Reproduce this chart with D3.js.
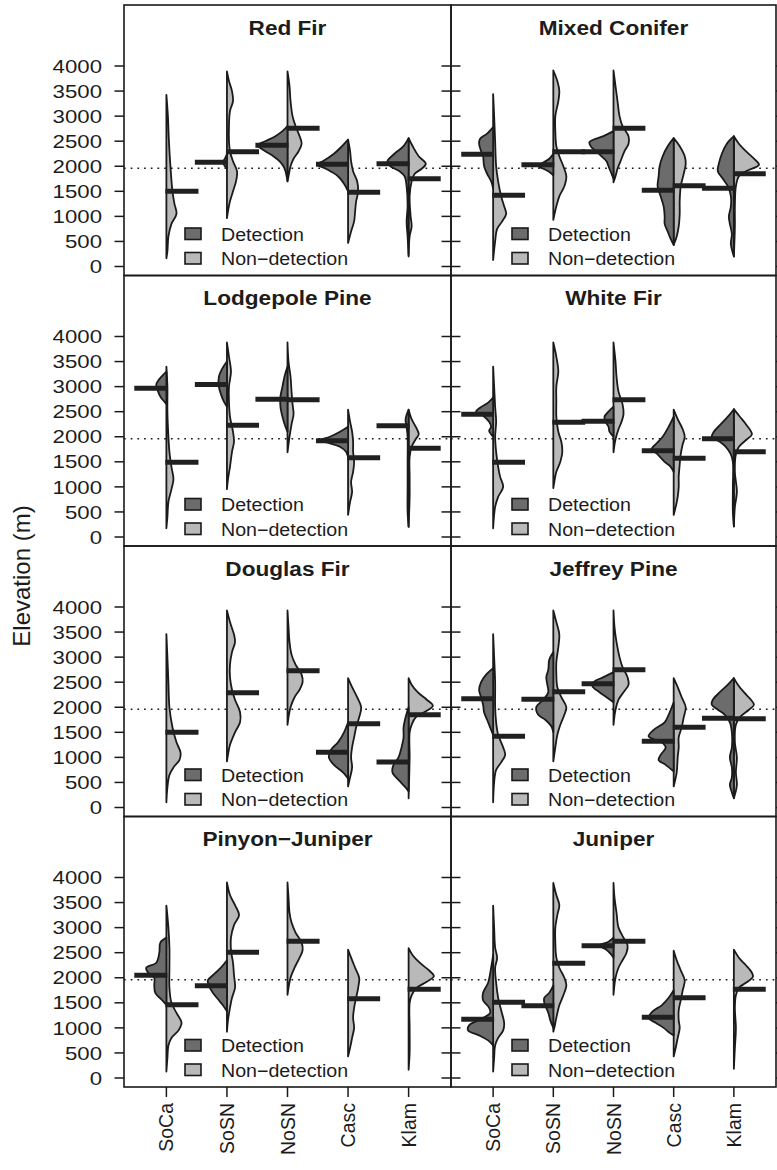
<!DOCTYPE html>
<html><head><meta charset="utf-8">
<script src="https://cdn.jsdelivr.net/npm/d3@7"></script>
<style>
body{margin:0;background:#fff}
svg{display:block}
text{font-family:"Liberation Sans",Arial,Helvetica,sans-serif;fill:#1c1c1c}
</style>
</head><body>
<svg id="chart" width="777" height="1170"></svg>
<script>
// ---------------- data ----------------
const regions = ["SoCa","SoSN","NoSN","Casc","Klam"];
const forestTypes = ["Red Fir","Mixed Conifer","Lodgepole Pine","White Fir","Douglas Fir","Jeffrey Pine","Pinyon\u2212Juniper","Juniper"];
const yTicks = [0,500,1000,1500,2000,2500,3000,3500,4000];
const refElevation = 1960;
const legendLabels = ["Detection","Non\u2212detection"];
const yTitle = "Elevation (m)";

// half-violin density profiles: [elevation, relative density] (per region, null = no data)
const redFirDet = [
  null,
  [[2250,0],[2150,2],[2080,4],[2000,2],[1950,0]],
  [[2800,0],[2700,5],[2600,12],[2500,22],[2420,30],[2300,22],[2200,14],[2100,8],[2000,4],[1900,2],[1700,0]],
  [[2530,0],[2400,6],[2250,14],[2100,25],[2040,31],[1950,22],[1800,10],[1650,4],[1500,0]],
  [[2560,0],[2400,5],[2250,14],[2100,21],[2000,18],[1900,9],[1800,4],[1600,2],[1200,1],[900,2],[600,1],[200,0]]
];
const redFirNon = [
  [[3425,0],[3000,1.5],[2500,2.5],[2000,4],[1500,6],[1250,8],[1050,10],[850,5],[600,2],[300,1],[165,0]],
  [[3890,0],[3700,2],[3500,5],[3300,6],[3100,3],[2800,2],[2500,2],[2300,3],[2100,6],[1900,10],[1700,9],[1500,6],[1300,3],[1100,1],[965,0]],
  [[3890,0],[3600,2],[3300,3],[3000,5],[2800,8],[2600,12],[2450,14],[2300,11],[2150,6],[2000,3],[1800,1],[1700,0]],
  [[2530,0],[2300,2],[2100,3],[1900,5],[1700,9],[1500,10],[1300,8],[1100,7],[900,6],[700,3],[470,0]],
  [[2560,0],[2400,4],[2200,10],[2050,17],[1950,13],[1850,6],[1700,3],[1400,1],[1000,2],[800,3],[600,1],[230,0]]
];
const redFirMedDet = [null,2080,2420,2040,2050];
const redFirMedNon = [1500,2290,2760,1480,1750];

const mixedConiferDet = [
  [[2780,0],[2650,6],[2550,13],[2450,14],[2300,12],[2200,10],[2000,9],[1850,6],[1700,2],[1550,0]],
  [[2250,0],[2150,4],[2050,12],[2000,15],[1950,10],[1900,5],[1820,0]],
  [[2700,0],[2600,10],[2480,24],[2380,22],[2300,17],[2200,12],[2100,7],[2000,5],[1900,3],[1750,0]],
  [[2560,0],[2400,6],[2200,11],[2000,14],[1800,15],[1600,16],[1400,13],[1200,10],[1000,9],[850,9],[700,6],[550,3],[430,0]],
  [[2600,0],[2450,7],[2250,12],[2050,15],[1900,16],[1750,11],[1600,6],[1400,3],[1200,3],[1000,5],[850,4],[650,2],[450,3],[200,0]]
];
const mixedConiferNon = [
  [[3440,0],[3000,1],[2500,2],[2000,3],[1700,5],[1400,8],[1200,11],[1050,13],[900,9],[750,4],[500,2],[130,0]],
  [[3910,0],[3700,4],[3500,6],[3300,5],[3000,2],[2700,2],[2400,3],[2200,6],[2000,10],[1800,13],[1600,11],[1400,6],[1200,3],[930,0]],
  [[3910,0],[3600,2],[3300,4],[3000,6],[2800,9],[2600,15],[2450,15],[2300,11],[2100,7],[1950,4],[1800,2],[1680,0]],
  [[2560,0],[2400,6],[2200,11],[2050,12],[1850,10],[1600,7],[1300,6],[1050,6],[800,5],[600,3],[430,0]],
  [[2600,0],[2450,5],[2300,12],[2150,20],[2030,25],[1900,12],[1800,5],[1600,2],[1200,1],[800,1],[200,0]]
];
const mixedConiferMedDet = [2240,2030,2290,1520,1560];
const mixedConiferMedNon = [1420,2290,2760,1610,1850];

const lodgepoleDet = [
  [[3300,0],[3150,7],[3050,10],[2950,9],[2800,6],[2700,2],[2650,0]],
  [[3500,0],[3350,5],[3200,8],[3000,8],[2850,6],[2700,3],[2600,0]],
  [[3400,0],[3200,3],[3000,5],[2800,7],[2600,7],[2400,5],[2200,2],[2100,0]],
  [[2200,0],[2100,8],[2000,18],[1930,28],[1880,20],[1800,8],[1700,2],[1600,0]],
  [[2540,0],[2350,3],[2200,2],[2000,1],[1500,1],[1000,1],[500,1],[200,0]]
];
const lodgepoleNon = [
  [[3400,0],[3000,1],[2500,1],[2000,2],[1700,3],[1400,5],[1150,7],[950,5],[700,2],[400,1],[175,0]],
  [[3880,0],[3600,2],[3300,4],[3000,2],[2700,2],[2400,3],[2100,6],[1900,7],[1700,5],[1400,3],[1150,1],[955,0]],
  [[3880,0],[3500,1],[3200,3],[2900,4],[2650,5],[2450,6],[2250,4],[2000,2],[1690,0]],
  [[2540,0],[2300,2],[2100,4],[1900,5],[1700,5],[1500,6],[1300,5],[1100,3],[900,4],[700,2],[440,0]],
  [[2540,0],[2350,3],[2200,7],[2050,10],[1950,7],[1800,3],[1600,1],[1200,1],[800,1],[210,0]]
];
const lodgepoleMedDet = [2970,3040,2750,1920,2220];
const lodgepoleMedNon = [1490,2230,2740,1580,1770];

const whiteFirDet = [
  [[2780,0],[2680,5],[2580,13],[2500,17],[2420,10],[2300,4],[2200,2],[2120,4],[2050,2],[2000,0]],
  null,
  [[2600,0],[2500,5],[2400,9],[2300,8],[2200,5],[2100,4],[2000,0]],
  [[2400,0],[2200,5],[2000,11],[1870,17],[1750,22],[1650,16],[1500,9],[1400,3],[1300,0]],
  [[2550,0],[2400,6],[2250,13],[2100,20],[2000,22],[1900,14],[1800,8],[1650,3],[1500,1],[1000,1],[500,1],[210,0]]
];
const whiteFirNon = [
  [[3400,0],[3000,1],[2600,2],[2300,3],[2000,2],[1700,3],[1400,5],[1200,7],[1000,10],[800,5],[600,2],[175,0]],
  [[3880,0],[3600,3],[3300,5],[3000,3],[2700,3],[2400,3],[2100,5],[1900,8],[1700,9],[1500,7],[1300,3],[1100,1],[975,0]],
  [[3880,0],[3500,2],[3200,3],[2900,5],[2650,9],[2450,10],[2300,8],[2150,5],[1950,2],[1690,0]],
  [[2540,0],[2350,4],[2150,9],[2000,11],[1850,9],[1650,7],[1450,6],[1200,5],[1000,5],[800,4],[600,2],[440,0]],
  [[2550,0],[2400,6],[2250,12],[2050,18],[1950,13],[1800,5],[1650,2],[1300,1],[900,3],[600,1],[210,0]]
];
const whiteFirMedDet = [2450,null,2310,1720,1960];
const whiteFirMedNon = [1490,2290,2740,1570,1700];

const douglasFirDet = [
  null, null, null,
  [[1700,0],[1500,4],[1300,10],[1150,17],[1000,19],[850,14],[700,5],[580,0]],
  [[2000,0],[1800,3],[1600,5],[1400,5],[1200,7],[1000,10],[850,15],[700,16],[550,10],[400,3],[320,0]]
];
const douglasFirNon = [
  [[3460,0],[3000,1],[2500,2],[2000,3],[1600,6],[1300,10],[1100,14],[950,13],[800,7],[650,3],[400,1],[105,0]],
  [[3930,0],[3700,3],[3450,7],[3300,8],[3100,5],[2850,3],[2600,3],[2350,5],[2150,8],[1900,13],[1700,13],[1500,8],[1250,3],[1050,1],[920,0]],
  [[3930,0],[3600,1],[3300,2],[3050,4],[2850,8],[2650,14],[2500,15],[2350,12],[2200,7],[2000,3],[1800,1],[1650,0]],
  [[2580,0],[2400,4],[2200,9],[2000,13],[1800,11],[1600,8],[1400,6],[1200,4],[1000,3],[800,4],[600,2],[420,0]],
  [[2580,0],[2450,3],[2300,9],[2150,18],[2030,24],[1930,18],[1800,7],[1650,3],[1500,1],[1000,1],[185,0]]
];
const douglasFirMedDet = [null,null,null,1100,910];
const douglasFirMedNon = [1500,2290,2730,1670,1850];

const jeffreyPineDet = [
  [[2780,0],[2650,7],[2500,12],[2350,14],[2200,12],[2050,10],[1900,9],[1750,6],[1600,3],[1450,0]],
  [[3100,0],[2950,4],[2750,5],[2600,7],[2450,6],[2300,5],[2150,10],[2000,17],[1850,15],[1750,8],[1620,2],[1500,0]],
  [[2700,0],[2600,10],[2500,20],[2420,21],[2300,14],[2200,7],[2100,0]],
  [[2100,0],[1900,4],[1700,9],[1550,20],[1420,25],[1300,12],[1200,8],[1050,13],[950,15],[850,8],[720,0]],
  [[2580,0],[2450,6],[2300,14],[2150,21],[2050,22],[1950,16],[1850,9],[1700,4],[1500,2],[1200,2],[1000,4],[800,2],[600,2],[450,4],[300,2],[185,0]]
];
const jeffreyPineNon = [
  [[3460,0],[3000,1],[2500,2],[2000,2],[1700,3],[1450,5],[1200,10],[1050,12],[900,8],[750,3],[500,1],[105,0]],
  [[3930,0],[3700,3],[3450,6],[3200,5],[2900,3],[2650,3],[2400,4],[2200,8],[2000,13],[1850,11],[1650,7],[1450,4],[1200,2],[920,0]],
  [[3930,0],[3600,1],[3300,3],[3000,6],[2800,9],[2600,14],[2450,15],[2300,10],[2150,5],[1950,2],[1650,0]],
  [[2580,0],[2400,4],[2200,8],[2000,12],[1800,10],[1600,8],[1400,5],[1200,5],[1000,4],[700,3],[420,0]],
  [[2580,0],[2450,4],[2300,10],[2150,17],[2050,20],[1950,15],[1800,6],[1650,2],[1300,1],[1000,3],[700,2],[450,3],[185,0]]
];
const jeffreyPineMedDet = [2170,2160,2470,1320,1780];
const jeffreyPineMedNon = [1420,2310,2750,1600,1770];

const pinyonJuniperDet = [
  [[2800,0],[2700,6],[2500,7],[2300,10],[2200,20],[2100,18],[2000,12],[1850,12],[1700,11],[1550,4],[1460,0]],
  [[2350,0],[2200,6],[2050,14],[1950,19],[1850,18],[1700,14],[1550,8],[1450,4],[1330,0]],
  null, null, null
];
const pinyonJuniperNon = [
  [[3440,0],[3000,2],[2600,3],[2200,3],[1800,3],[1500,5],[1300,10],[1100,15],[950,12],[800,5],[650,2],[400,1],[130,0]],
  [[3900,0],[3650,3],[3450,8],[3250,12],[3050,7],[2800,4],[2550,4],[2300,6],[2050,7],[1800,8],[1600,5],[1400,3],[1150,1],[925,0]],
  [[3900,0],[3600,1],[3300,2],[3100,4],[2900,8],[2700,14],[2550,15],[2400,12],[2200,7],[2000,3],[1800,1],[1660,0]],
  [[2560,0],[2400,3],[2200,7],[2000,11],[1800,10],[1600,8],[1400,6],[1200,5],[1000,6],[800,4],[600,2],[430,0]],
  [[2590,0],[2450,4],[2300,11],[2150,20],[2030,25],[1920,18],[1800,8],[1650,3],[1500,1],[1000,1],[500,1],[165,0]]
];
const pinyonJuniperMedDet = [2050,1840,null,null,null];
const pinyonJuniperMedNon = [1460,2510,2730,1580,1770];

const juniperDet = [
  [[2450,0],[2200,2],[1900,5],[1700,10],[1550,10],[1400,4],[1300,3],[1150,15],[1050,24],[950,25],[850,14],[750,5],[650,0]],
  [[1850,0],[1700,4],[1600,9],[1500,9],[1400,7],[1300,5],[1150,3],[1000,0]],
  [[2800,0],[2720,5],[2640,14],[2560,7],[2480,3],[2400,0]],
  [[1750,0],[1600,5],[1450,12],[1330,21],[1200,25],[1100,18],[1000,10],[900,4],[850,0]],
  null
];
const juniperNon = [
  [[3440,0],[3000,1],[2600,2],[2400,4],[2200,2],[1900,3],[1600,5],[1350,8],[1100,11],[950,10],[800,5],[650,2],[400,1],[130,0]],
  [[3890,0],[3650,3],[3450,6],[3250,4],[3000,2],[2700,2],[2400,3],[2200,6],[2000,11],[1850,13],[1650,10],[1450,6],[1200,3],[1000,1],[925,0]],
  [[3890,0],[3600,1],[3300,3],[3000,5],[2800,10],[2650,14],[2500,13],[2350,9],[2200,5],[2000,2],[1660,0]],
  [[2540,0],[2350,3],[2150,7],[1950,11],[1750,9],[1550,7],[1350,5],[1150,5],[1000,6],[800,4],[600,2],[430,0]],
  [[2560,0],[2400,5],[2250,12],[2100,18],[2020,19],[1900,12],[1800,5],[1650,2],[1400,1],[1000,2],[600,1],[185,0]]
];
const juniperMedDet = [1170,1440,2640,1210,null];
const juniperMedNon = [1510,2290,2730,1600,1770];

const panels = [
  {det: redFirDet, non: redFirNon, medDet: redFirMedDet, medNon: redFirMedNon},
  {det: mixedConiferDet, non: mixedConiferNon, medDet: mixedConiferMedDet, medNon: mixedConiferMedNon},
  {det: lodgepoleDet, non: lodgepoleNon, medDet: lodgepoleMedDet, medNon: lodgepoleMedNon},
  {det: whiteFirDet, non: whiteFirNon, medDet: whiteFirMedDet, medNon: whiteFirMedNon},
  {det: douglasFirDet, non: douglasFirNon, medDet: douglasFirMedDet, medNon: douglasFirMedNon},
  {det: jeffreyPineDet, non: jeffreyPineNon, medDet: jeffreyPineMedDet, medNon: jeffreyPineMedNon},
  {det: pinyonJuniperDet, non: pinyonJuniperNon, medDet: pinyonJuniperMedDet, medNon: pinyonJuniperMedNon},
  {det: juniperDet, non: juniperNon, medDet: juniperMedDet, medNon: juniperMedNon}
];

// ---------------- layout ----------------
const svg = d3.select("#chart");
const colX = [124, 451, 776];
const top0 = 5, rowH = 270.5;
const darkFill = "#6c6c6c", lightFill = "#b9b9b9", ink = "#1a1a1a";

function stretch(sel, f) {
  sel.each(function(){ const l = this.getComputedTextLength(); d3.select(this).attr("textLength", l*f).attr("lengthAdjust","spacingAndGlyphs"); });
}

panels.forEach((p, i) => {
  const col = i % 2, row = Math.floor(i / 2);
  const x0 = colX[col], x1 = colX[col+1];
  const yTop = top0 + row*rowH;
  const g = svg.append("g");
  const x = d3.scaleLinear().domain([0.3, 5.7]).range([x0, x1]);
  const y = d3.scaleLinear().domain([0, 4000]).range([yTop + 261.5, yTop + 61]);
  const step = x(2) - x(1);
  const w = d3.scaleLinear().domain([0, 60]).range([0, step]);

  // reference dotted line
  g.append("line").attr("x1", x0).attr("x2", x1).attr("y1", y(refElevation)).attr("y2", y(refElevation))
    .attr("stroke", ink).attr("stroke-width", 1.7).attr("stroke-dasharray", "1.7,5");

  regions.forEach((r, k) => {
    const cx = x(k+1);
    const nd = p.non[k], dd = p.det[k];
    if (nd) {
      const area = d3.area().curve(d3.curveCatmullRom.alpha(0.5))
        .y(d => y(d[0])).x0(cx).x1(d => cx + w(d[1]));
      g.append("path").attr("d", area(nd)).attr("fill", lightFill)
        .attr("stroke", ink).attr("stroke-width", 1.8).attr("stroke-linejoin", "round");
    }
    if (dd) {
      const area = d3.area().curve(d3.curveCatmullRom.alpha(0.5))
        .y(d => y(d[0])).x0(cx).x1(d => cx - w(d[1]));
      g.append("path").attr("d", area(dd)).attr("fill", darkFill)
        .attr("stroke", ink).attr("stroke-width", 1.8).attr("stroke-linejoin", "round");
    }
  });
  regions.forEach((r, k) => {
    const cx = x(k+1);
    const barLen = step * 0.53;
    if (p.medDet[k] != null)
      g.append("line").attr("x1", cx - barLen).attr("x2", cx + 1).attr("y1", y(p.medDet[k])).attr("y2", y(p.medDet[k]))
        .attr("stroke", "#202020").attr("stroke-width", 5);
    if (p.medNon[k] != null)
      g.append("line").attr("x1", cx - 1).attr("x2", cx + barLen).attr("y1", y(p.medNon[k])).attr("y2", y(p.medNon[k]))
        .attr("stroke", "#202020").attr("stroke-width", 5);
  });

  // title
  g.append("text").attr("x", (x0+x1)/2).attr("y", yTop + 29.5).attr("text-anchor", "middle")
    .attr("font-size", 20).attr("font-weight", "bold").text(forestTypes[i]).call(stretch, 1.13);

  // legend
  [darkFill, lightFill].forEach((c, j) => {
    g.append("rect").attr("x", x0 + 61).attr("y", yTop + 223 + j*24.5).attr("width", 16).attr("height", 11.5)
      .attr("fill", c).attr("stroke", ink).attr("stroke-width", 1.6);
    g.append("text").attr("x", x0 + 97).attr("y", yTop + 235.5 + j*24.5).attr("font-size", 18)
      .text(legendLabels[j]).call(stretch, 1.09);
  });

  // y ticks (both sides)
  yTicks.forEach(t => {
    g.append("line").attr("x1", x0 - 9.5).attr("x2", x0).attr("y1", y(t)).attr("y2", y(t)).attr("stroke", ink).attr("stroke-width", 1.5);
    g.append("line").attr("x1", x1).attr("x2", x1 + 9.5).attr("y1", y(t)).attr("y2", y(t)).attr("stroke", ink).attr("stroke-width", 1.5);
  });
  if (col === 0) {
    g.append("g").selectAll("text").data(yTicks).join("text")
      .attr("x", 102).attr("y", t => y(t)).attr("dy", "0.36em").attr("text-anchor", "end")
      .attr("font-size", 18.5).text(t => t).call(stretch, 1.2);
  }
  // x ticks and labels at bottom
  if (row === 3) {
    regions.forEach((r, k) => {
      const cx = x(k+1);
      g.append("line").attr("x1", cx).attr("x2", cx).attr("y1", yTop + rowH).attr("y2", yTop + rowH + 10).attr("stroke", ink).attr("stroke-width", 1.5);
      g.append("text").attr("transform", `translate(${cx},${yTop + rowH + 16}) rotate(-90)`)
        .attr("text-anchor", "end").attr("dy", "0.36em").attr("font-size", 19.5).text(r);
    });
  }
  // border
  g.append("rect").attr("x", x0).attr("y", yTop).attr("width", x1 - x0).attr("height", rowH)
    .attr("fill", "none").attr("stroke", ink).attr("stroke-width", 1.6);
});

svg.append("text").attr("transform", "translate(21,576) rotate(-90)").attr("text-anchor", "middle")
  .attr("dy", "0.36em").attr("font-size", 24).text(yTitle);
</script>
</body></html>
